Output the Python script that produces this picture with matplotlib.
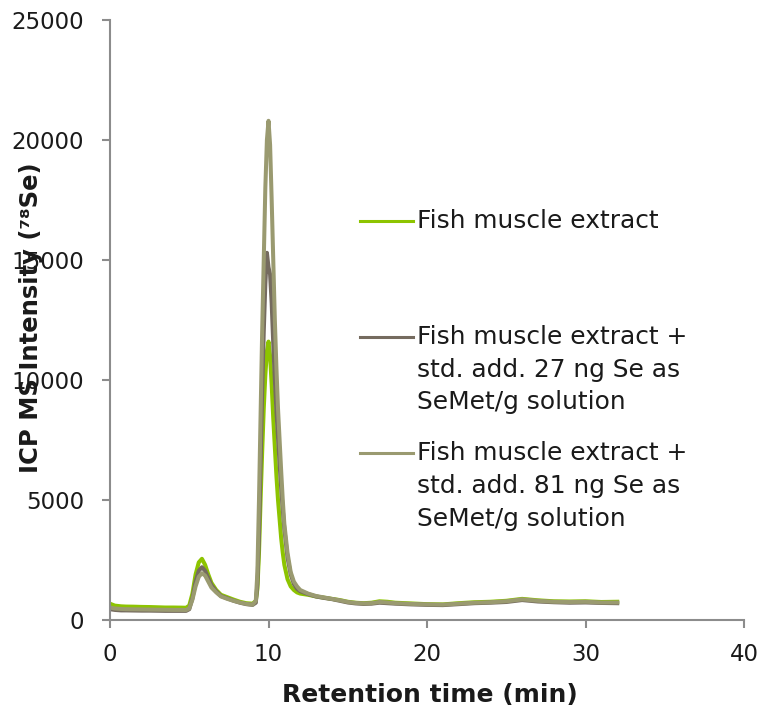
import matplotlib
matplotlib.use('Agg')
import matplotlib.pyplot as plt

# retention time (min), shared by the three traces
time_min = [0, 0.3, 0.7, 1, 1.5, 2, 2.5, 3, 3.5, 4,
            4.5, 4.8, 5.0, 5.2, 5.4, 5.6, 5.8, 6.0, 6.2, 6.4,
            6.7, 7.0, 7.4, 7.8, 8.2, 8.6, 9.0, 9.2, 9.3, 9.4,
            9.5, 9.6, 9.7, 9.8, 9.9, 10.0, 10.1, 10.2, 10.3, 10.4,
            10.5, 10.6, 10.7, 10.8, 10.9, 11.0, 11.2, 11.4, 11.6, 11.8,
            12.0, 12.5, 13.0, 13.5, 14.0, 14.5, 15.0, 15.5, 16.0, 16.5,
            17.0, 17.5, 18.0, 19.0, 20.0, 21.0, 22.0, 23.0, 24.0, 25.0,
            25.5, 26.0, 26.5, 27.0, 28.0, 29.0, 30.0, 31.0, 32.0]

fish_extract = [680, 600, 570, 560, 555, 545, 540, 530, 520, 520,
                515, 510, 600, 1100, 1900, 2400, 2550, 2300, 1900, 1550,
                1250, 1050, 950, 850, 760, 700, 680, 800, 1300, 2800,
                5000, 7000, 8800, 10200, 11200, 11600, 11000, 9800, 8400, 7200,
                6000, 5000, 4200, 3400, 2800, 2300, 1700, 1400, 1250, 1150,
                1100, 1050, 980, 930, 880, 830, 760, 720, 700, 720,
                780, 760, 720, 690, 660, 650, 700, 740, 760, 800,
                840, 880, 850, 820, 780, 770, 780, 750, 760]

add_27 = [450, 420, 400, 400, 395, 390, 390, 385, 380, 380,
          380, 380, 450, 900, 1600, 2050, 2200, 2050, 1750, 1450,
          1200, 1000, 900, 800, 720, 660, 630, 720, 1500, 3500,
          6500, 9500, 12000, 14000, 15300, 14700, 14400, 13200, 11500, 10000,
          8700, 7600, 6500, 5500, 4600, 3800, 2600, 1900, 1500, 1300,
          1200, 1080, 980, 920, 870, 800, 730, 690, 670, 680,
          720, 700, 680, 650, 630, 620, 660, 700, 720, 750,
          790, 830, 800, 770, 740, 720, 730, 710, 700]

add_81 = [520, 480, 460, 450, 445, 440, 435, 430, 425, 420,
          420, 415, 480, 850, 1400, 1800, 1950, 1850, 1600, 1350,
          1150, 980, 880, 800, 730, 670, 640, 800, 2000, 5000,
          8500, 12000, 15000, 18000, 20000, 20800, 19800, 17500, 15000, 12500,
          10500, 8800, 7500, 6200, 5000, 4000, 2800, 2000, 1600, 1400,
          1250, 1100, 1000, 940, 880, 820, 750, 710, 690, 700,
          750, 730, 700, 670, 650, 640, 680, 720, 740, 780,
          820, 860, 830, 800, 760, 750, 760, 730, 730]

series = [fish_extract, add_27, add_81]
labels = ['Fish muscle extract',
          'Fish muscle extract +\nstd. add. 27 ng Se as\nSeMet/g solution',
          'Fish muscle extract +\nstd. add. 81 ng Se as\nSeMet/g solution']
colors = ['#8dc400', '#756b5f', '#9a9a70']

plt.rcParams['font.family'] = ['DejaVu Sans']

fig = plt.figure(figsize=(7.6, 7.12), dpi=100)
ax = fig.add_axes([110 / 760, 92 / 712, 634 / 760, 600 / 712])

for vals, col in zip(series, colors):
    ax.plot(time_min, vals, color=col, linewidth=2.9, solid_joinstyle='round')

ax.set_xlim(0, 40)
ax.set_ylim(0, 25000)
ax.set_xticks([0, 10, 20, 30, 40])
ax.set_yticks([0, 5000, 10000, 15000, 20000, 25000])

for side in ['top', 'right']:
    ax.spines[side].set_visible(False)
for side in ['left', 'bottom']:
    ax.spines[side].set_color('#8c8c8c')
    ax.spines[side].set_linewidth(1.5)
ax.tick_params(axis='both', direction='out', length=5.8, width=1.5,
               color='#8c8c8c', labelsize=16.5, labelcolor='#1a1a1a')
ax.tick_params(axis='y', pad=13)
ax.tick_params(axis='x', pad=11)

# legend drawn by hand: handle sits on the first text line
legend_y = [0.665, 0.472, 0.278]
for y, lab, col in zip(legend_y, labels, colors):
    ax.plot([0.394, 0.478], [y, y], transform=ax.transAxes, color=col,
            linewidth=2.2, clip_on=False)
    ax.text(0.485, y + 0.020, lab, transform=ax.transAxes, fontsize=17.9,
            va='top', ha='left', linespacing=1.46, color='#1a1a1a')

fig.text(430 / 760, 1 - 695 / 712, 'Retention time (min)', fontsize=18,
         fontweight='bold', ha='center', va='center', color='#1a1a1a')
fig.text(31 / 760, 1 - 318 / 712, 'ICP MS Intensity (\u2077\u2078Se)', fontsize=17.5,
         fontweight='bold', rotation=90, ha='center', va='center', color='#1a1a1a')

fig.savefig('out.png', dpi=100)
